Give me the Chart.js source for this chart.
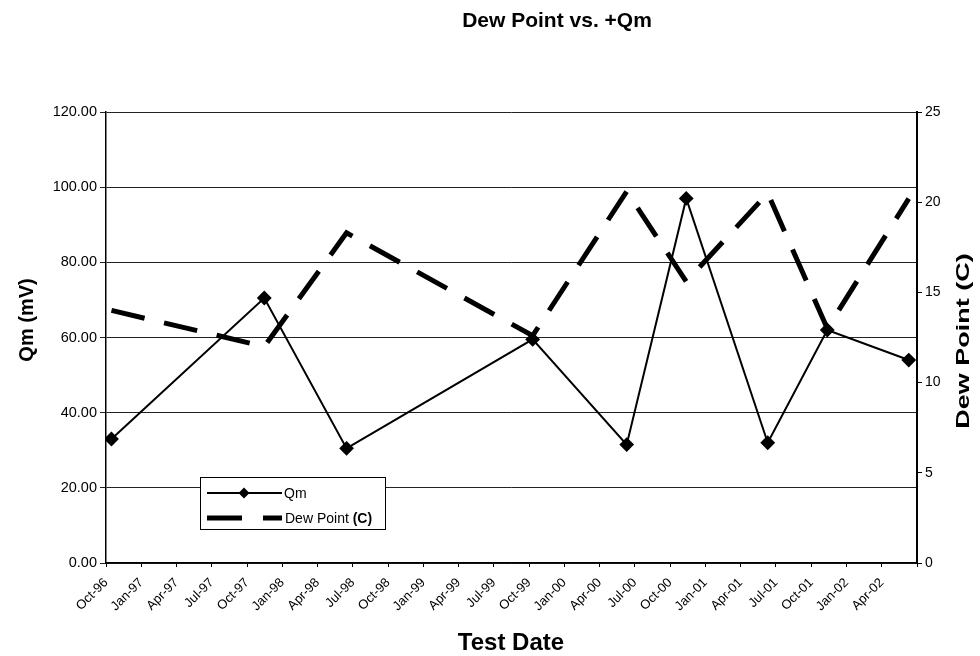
<!DOCTYPE html>
<html>
<head>
<meta charset="utf-8">
<script src="https://cdn.jsdelivr.net/npm/chart.js@4.4.0/dist/chart.umd.min.js"></script>
<style>
  html, body { margin: 0; padding: 0; background: #fff; }
  #wrap { width: 980px; height: 656px; }
</style>
</head>
<body>
<div id="wrap"><canvas id="c" width="980" height="656"></canvas></div>
<script>
// Quarterly tick labels on the date axis (Oct-96 .. Apr-02)
const monthLabels = ['Oct-96','Jan-97','Apr-97','Jul-97','Oct-97','Jan-98','Apr-98','Jul-98','Oct-98',
  'Jan-99','Apr-99','Jul-99','Oct-99','Jan-00','Apr-00','Jul-00','Oct-00','Jan-01','Apr-01',
  'Jul-01','Oct-01','Jan-02','Apr-02'];
// Test dates
const testDates = ['1996-10-15','1997-11-15','1998-06-15','1999-10-10','2000-06-10',
  '2000-11-12','2001-06-10','2001-11-12','2002-06-10'];
// Qm (mV), left axis
const qmValues = [33, 70.5, 30.5, 59.5, 31.5, 97, 32, 62, 54];
// Dew point (C), right axis
const dewPointValues = [14, 12, 18.3, 12.6, 20.6, 15.6, 20.5, 13, 20.2];

const FONT = '"Liberation Sans", Arial, sans-serif';

function monthIndex(d) {
  const [y, m, day] = d.split('-').map(Number);
  return (y - 1996) * 12 + (m - 10) + (day - 1) / 30;
}
const qmData = testDates.map((d, i) => ({ x: monthIndex(d), y: qmValues[i] }));
const dewData = testDates.map((d, i) => ({ x: monthIndex(d), y: dewPointValues[i] }));

const decor = {
  id: 'decor',
  afterDraw(chart) {
    const ctx = chart.ctx;
    ctx.save();
    ctx.fillStyle = '#000';
    // Title
    ctx.font = 'bold 21px ' + FONT;
    ctx.textAlign = 'center';
    ctx.textBaseline = 'middle';
    ctx.fillText('Dew Point vs. +Qm', 557, 21);
    // X title
    ctx.font = 'bold 24px ' + FONT;
    ctx.textBaseline = 'alphabetic';
    ctx.fillText('Test Date', 511, 650);
    ctx.textBaseline = 'middle';
    // Left title
    ctx.save();
    ctx.translate(27, 320);
    ctx.rotate(-Math.PI / 2);
    ctx.font = 'bold 20px ' + FONT;
    ctx.fillText('Qm (mV)', 0, 0);
    ctx.restore();
    // Right title
    ctx.save();
    ctx.translate(964, 341);
    ctx.rotate(-Math.PI / 2);
    ctx.scale(1.5, 1);
    ctx.font = 'bold 18px ' + FONT;
    ctx.fillText('Dew Point (C)', 0, 0);
    ctx.restore();

    // Legend
    const lx = 200, ly = 477, lw = 185, lh = 52;
    ctx.fillStyle = '#fff';
    ctx.fillRect(lx, ly, lw, lh);
    ctx.strokeStyle = '#000';
    ctx.lineWidth = 1;
    ctx.strokeRect(lx + 0.5, ly + 0.5, lw, lh);
    // Qm row
    const r1 = ly + 16;
    ctx.lineWidth = 2;
    ctx.beginPath();
    ctx.moveTo(lx + 7, r1);
    ctx.lineTo(lx + 82, r1);
    ctx.stroke();
    ctx.fillStyle = '#000';
    ctx.beginPath();
    const dx = lx + 44;
    ctx.moveTo(dx, r1 - 5.5); ctx.lineTo(dx + 5.5, r1); ctx.lineTo(dx, r1 + 5.5); ctx.lineTo(dx - 5.5, r1);
    ctx.closePath();
    ctx.fill();
    ctx.font = '14px ' + FONT;
    ctx.textAlign = 'left';
    ctx.fillText('Qm', lx + 84, r1 + 1);
    // Dew row
    const r2 = ly + 41;
    ctx.lineWidth = 5;
    ctx.beginPath();
    ctx.moveTo(lx + 7, r2); ctx.lineTo(lx + 42, r2);
    ctx.moveTo(lx + 63, r2); ctx.lineTo(lx + 82, r2);
    ctx.stroke();
    ctx.font = '14px ' + FONT;
    ctx.fillText('Dew Point ', lx + 85, r2 + 1);
    const w = ctx.measureText('Dew Point ').width;
    ctx.font = 'bold 14px ' + FONT;
    ctx.fillText('(C)', lx + 85 + w, r2 + 1);
    ctx.restore();
  }
};

new Chart(document.getElementById('c'), {
  type: 'line',
  data: {
    datasets: [
      {
        label: 'Qm',
        data: qmData,
        yAxisID: 'y',
        borderColor: '#000',
        backgroundColor: '#000',
        borderWidth: 2,
        pointStyle: 'rectRot',
        pointRadius: 6,
        pointBackgroundColor: '#000',
        pointBorderColor: '#000',
        tension: 0,
        fill: false
      },
      {
        label: 'Dew Point (C)',
        data: dewData,
        yAxisID: 'y1',
        borderColor: '#000',
        borderWidth: 5,
        borderDash: [34, 20],
        borderCapStyle: 'butt',
        pointRadius: 0,
        tension: 0,
        fill: false
      }
    ]
  },
  options: {
    responsive: false,
    animation: false,
    devicePixelRatio: 1,
    layout: { padding: { top: 112, left: 0, right: 0, bottom: 0 } },
    plugins: {
      legend: { display: false },
      title: { display: false },
      tooltip: { enabled: false }
    },
    scales: {
      x: {
        type: 'linear',
        min: 0,
        max: 69,
        afterFit(s) { s.height = 93; },
        grid: { drawOnChartArea: false, drawTicks: true, tickLength: 4, color: '#000' },
        border: { display: true, color: '#000', width: 1.5 },
        ticks: {
          stepSize: 3,
          autoSkip: false,
          maxRotation: 45,
          minRotation: 45,
          color: '#000',
          padding: 8,
          font: { family: FONT, size: 13 },
          callback: (v) => monthLabels[Math.round(v / 3)] || ''
        }
      },
      y: {
        position: 'left',
        min: 0,
        max: 120,
        afterFit(s) { s.width = 106; },
        grid: { color: '#222', lineWidth: 1, tickLength: 6 },
        border: { display: true, color: '#000', width: 1.5 },
        ticks: {
          stepSize: 20,
          color: '#000',
          padding: 3,
          font: { family: FONT, size: 14.5 },
          callback: (v) => Number(v).toFixed(2)
        }
      },
      y1: {
        position: 'right',
        min: 0,
        max: 25,
        afterFit(s) { s.width = 63; },
        grid: { drawOnChartArea: false, tickLength: 5, color: '#000' },
        border: { display: true, color: '#000', width: 2 },
        ticks: {
          stepSize: 5,
          color: '#000',
          padding: 3,
          font: { family: FONT, size: 14 }
        }
      }
    }
  },
  plugins: [decor]
});
</script>
</body>
</html>
